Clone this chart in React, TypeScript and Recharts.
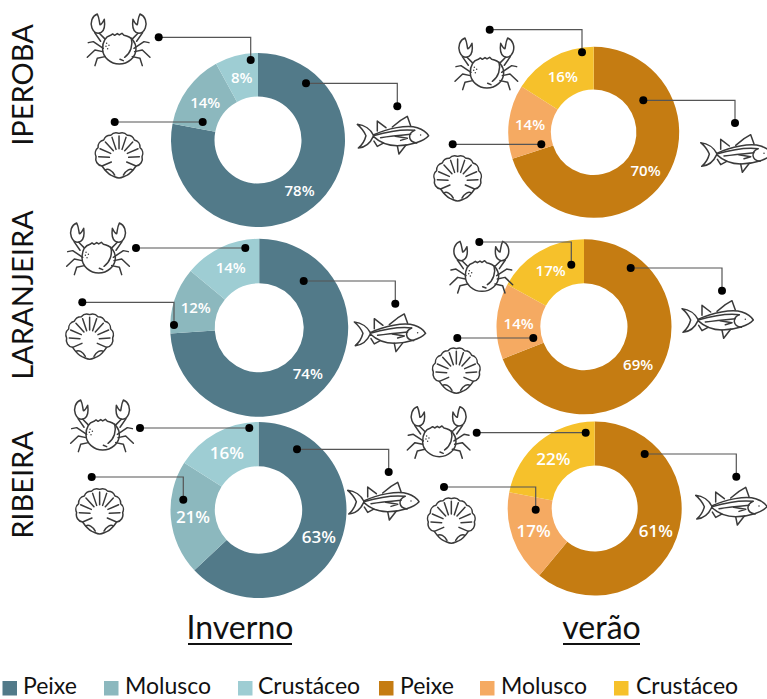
import React from "react";
import { PieChart, Pie, Cell } from "recharts";

// Diet composition by site and season (percent of items)
const categories = ["Peixe", "Molusco", "Crustáceo"];
const iperobaInverno = [78, 14, 8];
const iperobaVerao = [70, 14, 16];
const laranjeiraInverno = [74, 12, 14];
const laranjeiraVerao = [69, 14, 17];
const ribeiraInverno = [63, 21, 16];
const ribeiraVerao = [61, 17, 22];

const winterColors = ["#527a89", "#8cb8be", "#9ecdd3"];
const summerColors = ["#c57c12", "#f5aa62", "#f6c12b"];
const siteNames = ["IPEROBA", "LARANJEIRA", "RIBEIRA"];
const seasonNames = ["Inverno", "verão"];

const W = 767;
const H = 699;
const INK = "#3a3a3a";
const LABEL_FONT = "'Open Sans', sans-serif";
const TITLE_FONT = "Lato, sans-serif";

type Pt = [number, number];
type Donut = {
  values: number[];
  colors: string[];
  cx: number;
  cy: number;
  inner: number;
  outer: number;
  labelSize: number;
  crab: Pt;
  shell: Pt;
  fish: Pt;
  leaders: Pt[][];
};

const donuts: Donut[] = [
  {
    values: iperobaInverno, colors: winterColors, cx: 258, cy: 140, inner: 43.5, outer: 87, labelSize: 15,
    crab: [87.3, 13.3], shell: [94.7, 132.7], fish: [357.3, 115.7],
    leaders: [
      [[158.7, 37.3], [250.7, 37.3], [250.7, 60]],
      [[306, 83.3], [397.3, 83.3], [397.3, 106.3]],
      [[114.7, 122], [202.7, 122]],
    ],
  },
  {
    values: iperobaVerao, colors: summerColors, cx: 593.7, cy: 132.3, inner: 42.7, outer: 85.5, labelSize: 15,
    crab: [455, 37.3], shell: [433.3, 155.7], fish: [700.7, 134],
    leaders: [
      [[489.7, 29.7], [582, 29.7], [582, 52.3]],
      [[643.3, 100.3], [735, 100.3], [735, 123]],
      [[452.7, 144.3], [541.3, 144.3]],
    ],
  },
  {
    values: laranjeiraInverno, colors: winterColors, cx: 259.2, cy: 327.8, inner: 44.5, outer: 89, labelSize: 15,
    crab: [66.7, 222.3], shell: [65.3, 314], fish: [354.3, 313.3],
    leaders: [
      [[136, 248], [245.3, 248]],
      [[303.7, 281], [395.3, 281], [395.3, 303.7]],
      [[82.3, 302.3], [174, 302.3], [174, 325]],
    ],
  },
  {
    values: laranjeiraVerao, colors: summerColors, cx: 584, cy: 326.7, inner: 43.5, outer: 87.5, labelSize: 15,
    crab: [450, 240.7], shell: [432, 348], fish: [682, 300],
    leaders: [
      [[479.3, 242], [571.3, 242], [571.3, 264.7]],
      [[630.7, 268], [722, 268], [722, 290.7]],
      [[457.3, 338], [533.3, 338]],
    ],
  },
  {
    values: ribeiraInverno, colors: winterColors, cx: 258.5, cy: 510, inner: 43.7, outer: 88, labelSize: 17,
    crab: [70.7, 399.3], shell: [75.3, 488.7], fish: [347.7, 481.7],
    leaders: [
      [[140, 428], [249.3, 428]],
      [[297, 449.3], [388.7, 449.3], [388.7, 472]],
      [[91.7, 477], [183.3, 477], [183.3, 499.7]],
    ],
  },
  {
    values: ribeiraVerao, colors: summerColors, cx: 594.7, cy: 508.5, inner: 43, outer: 87, labelSize: 17,
    crab: [407.3, 406], shell: [427, 498], fish: [695.7, 486.7],
    leaders: [
      [[476.7, 432.7], [585.7, 432.7]],
      [[644.7, 454], [736.3, 454], [736.3, 476.7]],
      [[444, 487], [535.7, 487], [535.7, 509.7]],
    ],
  },
];

const RADIAN = Math.PI / 180;

// Percent text sits in the middle of the ring, at the slice's mid angle.
const percentLabel = (size: number) => (p: any) => {
  const r = (p.innerRadius + p.outerRadius) / 2;
  const x = p.cx + r * Math.cos(-p.midAngle * RADIAN);
  const y = p.cy + r * Math.sin(-p.midAngle * RADIAN);
  return (
    <text
      x={x}
      y={y}
      fill="#ffffff"
      fontFamily={LABEL_FONT}
      fontWeight={600}
      fontSize={size}
      textAnchor="middle"
      dominantBaseline="central"
    >
      {`${p.value}%`}
    </text>
  );
};

const iconStroke = { fill: "none", stroke: INK, strokeWidth: 4.5, strokeLinejoin: "round", strokeLinecap: "round" } as const;

const CrabSide = () => (
  <g>
    <path d="M30 2 C14 8 8 28 14 44 C18 54 26 60 34 60 C46 58 52 46 52 32 L51 18 C46 28 42 34 38 34 C36 26 36 14 30 2 Z" />
    <path d="M22 58 L40 84 M36 60 L52 76" />
    <path d="M48 105 L18 85 L3 88" />
    <path d="M46 115 L23 110 L0 132" />
    <path d="M53 130 L30 135 L23 157" />
  </g>
);

const Crab = ({ at }: { at: Pt }) => (
  <g transform={`translate(${at[0]} ${at[1]}) scale(0.3333)`} {...iconStroke}>
    <CrabSide />
    <g transform="translate(188 0) scale(-1 1)">
      <CrabSide />
    </g>
    <path d="M46 107 C46 85 56 70 70 66 L76 62 L82 66 L90 61 L96 65 L104 60 L110 66 C134 70 146 88 146 107 C146 132 122 152 96 152 C70 152 46 132 46 107 Z" />
    <path d="M132 75 C138 95 130 120 112 132 M98 138 L108 142" />
    <path d="M58 90 L58 90 M65 96 L65 96 M56 99 L56 99 M61 106 L61 106" />
  </g>
);

const Shell = ({ at }: { at: Pt }) => (
  <g transform={`translate(${at[0]} ${at[1]}) scale(0.3333)`} {...iconStroke}>
    <path d="M22 100 A22 22 0 0 1 4 72 A22 22 0 0 1 10 45 A22 22 0 0 1 27 22 A22 22 0 0 1 48 8 A22 22 0 0 1 73 2 A22 22 0 0 1 98 8 A22 22 0 0 1 119 22 A22 22 0 0 1 136 45 A22 22 0 0 1 142 72 A22 22 0 0 1 124 100 C116 112 108 122 96 128 C86 132 80 136 73 136 C66 136 60 132 50 128 C38 122 30 112 22 100 Z" />
    <path d="M22 100 L50 88 M12 72 L44 74 M16 48 L48 62 M32 28 L56 54 M52 14 L64 50 M73 10 L73 48 M94 14 L82 50 M114 28 L90 54 M130 48 L98 62 M134 72 L102 74 M124 100 L96 88" />
    <path d="M32 112 C40 106 52 114 60 127 M114 112 C106 106 94 114 86 127" />
  </g>
);

const Fish = ({ at }: { at: Pt }) => (
  <g transform={`translate(${at[0]} ${at[1]}) scale(0.3333)`} {...iconStroke}>
    <path d="M48 58 C90 38 150 26 180 36 C195 41 208 50 214 60 C200 76 160 90 120 90 C90 90 65 78 48 62 C40 80 25 95 3 97 C14 88 22 76 26 60 C20 46 12 36 0 26 C22 28 40 42 48 58 Z" />
    <path d="M48 60 C90 48 140 40 172 44" />
    <path d="M70 66 C100 62 140 58 160 56" />
    <path d="M105 34 L130 14 L150 2 L160 30" />
    <path d="M60 46 L60 16 L86 36" />
    <path d="M120 90 L125 115 L146 88" />
    <path d="M50 76 L60 92 L78 82" />
    <path d="M172 44 C150 54 152 78 178 82" />
    <path d="M114 62 L150 68 L130 74" />
    <path d="M190 58 L190 58" />
  </g>
);

const Leader = ({ pts }: { pts: Pt[] }) => {
  const first = pts[0];
  const last = pts[pts.length - 1];
  return (
    <g>
      <polyline points={pts.map((p) => p.join(",")).join(" ")} fill="none" stroke="#555555" strokeWidth={1.2} />
      <circle cx={first[0]} cy={first[1]} r={4} fill="#000000" />
      <circle cx={last[0]} cy={last[1]} r={4} fill="#000000" />
    </g>
  );
};

const legendEntries = [
  { name: categories[0], color: winterColors[0], box: 2.5, text: 23 },
  { name: categories[1], color: winterColors[1], box: 104, text: 125 },
  { name: categories[2], color: winterColors[2], box: 238, text: 258 },
  { name: categories[0], color: summerColors[0], box: 379, text: 400 },
  { name: categories[1], color: summerColors[1], box: 480, text: 501 },
  { name: categories[2], color: summerColors[2], box: 614, text: 636 },
];

const Overlay = () => (
  <svg width={W} height={H} style={{ position: "absolute", left: 0, top: 0 }}>
    {donuts.map((d, i) => (
      <g key={i}>
        <Crab at={d.crab} />
        <Shell at={d.shell} />
        <Fish at={d.fish} />
        {d.leaders.map((l, j) => (
          <Leader key={j} pts={l} />
        ))}
      </g>
    ))}
    {siteNames.map((name, i) => (
      <text
        key={name}
        transform={`translate(33 ${[85, 295, 485][i]}) rotate(-90)`}
        textAnchor="middle"
        fontFamily={TITLE_FONT}
        fontSize={29}
        fill="#111111"
      >
        {name}
      </text>
    ))}
    {seasonNames.map((name, i) => (
      <g key={name}>
        <text
          x={[240, 601.5][i]}
          y={639}
          textAnchor="middle"
          fontFamily={TITLE_FONT}
          fontSize={32}
          fill="#111111"
        >
          {name}
        </text>
        <line
          x1={[188, 563][i]}
          x2={[292, 640][i]}
          y1={644}
          y2={644}
          stroke="#111111"
          strokeWidth={2}
        />
      </g>
    ))}
    {legendEntries.map((e, i) => (
      <g key={i}>
        <rect x={e.box} y={681} width={14.5} height={14.5} fill={e.color} />
        <text x={e.text} y={694} fontFamily={TITLE_FONT} fontSize={23} fill="#111111">
          {e.name}
        </text>
      </g>
    ))}
  </svg>
);

export default function App() {
  return (
    <div style={{ position: "absolute", left: 0, top: 0, width: W, height: H, background: "#ffffff" }}>
      <PieChart width={W} height={H} margin={{ top: 0, right: 0, bottom: 0, left: 0 }}>
        {donuts.map((d, i) => (
          <Pie
            key={i}
            data={categories.map((name, k) => ({ name, value: d.values[k] }))}
            dataKey="value"
            nameKey="name"
            cx={d.cx}
            cy={d.cy}
            innerRadius={d.inner}
            outerRadius={d.outer}
            startAngle={90}
            endAngle={-270}
            stroke="none"
            label={percentLabel(d.labelSize)}
            labelLine={false}
            isAnimationActive={false}
          >
            {d.colors.map((c) => (
              <Cell key={c} fill={c} />
            ))}
          </Pie>
        ))}
      </PieChart>
      <Overlay />
    </div>
  );
}
